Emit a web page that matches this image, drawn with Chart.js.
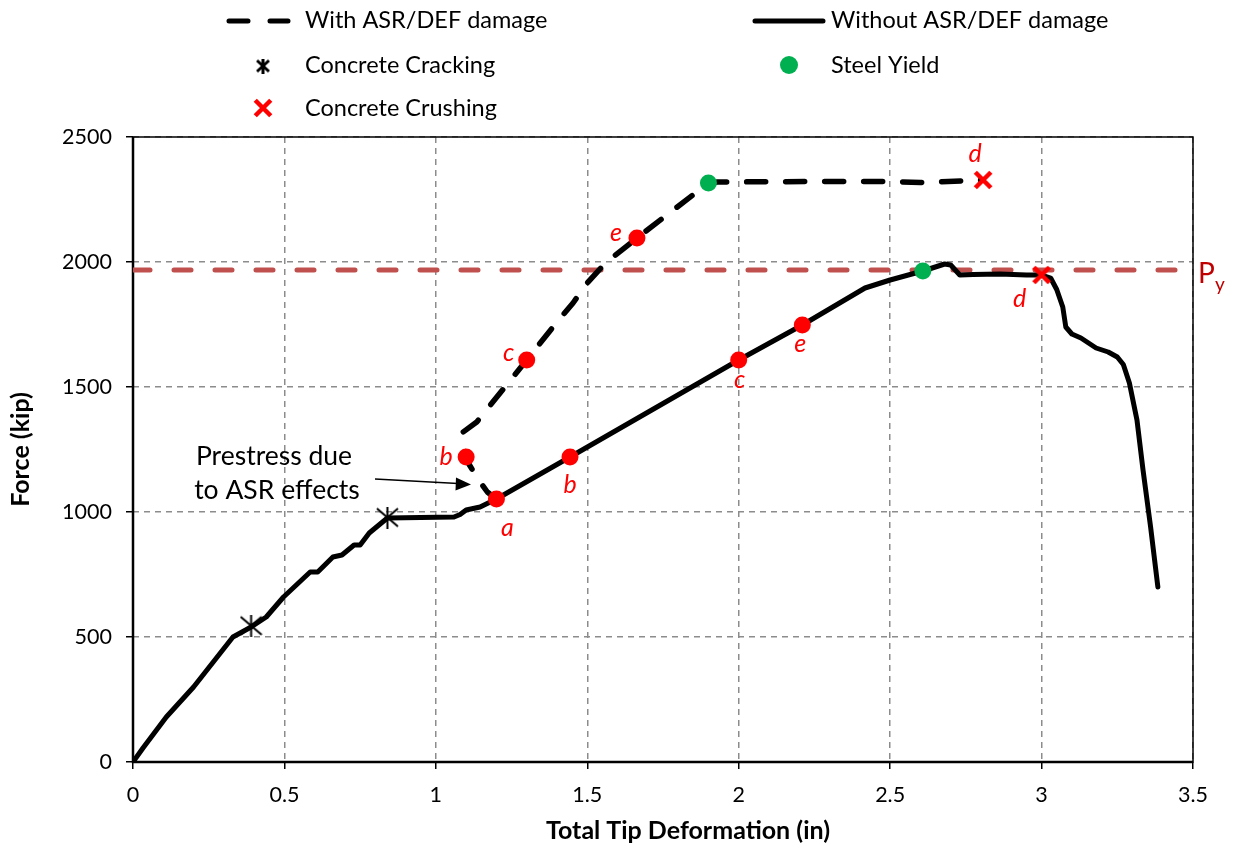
<!DOCTYPE html>
<html lang="en">
<head>
  <meta charset="UTF-8" />
  <title>Force vs Total Tip Deformation</title>
  <script src="https://cdn.jsdelivr.net/npm/chart.js"></script>
  <style>
    body { margin: 0; background: #fff; }
    #wrap { width: 1236px; height: 850px; }
  </style>
</head>
<body>
  <div id="wrap"><canvas id="forceChart" width="1236" height="850"></canvas></div>

  <script>
    // Without ASR/DEF damage (in, kip)
    const solidDef = [0, 0.033, 0.11, 0.2, 0.265, 0.33, 0.39, 0.44, 0.497, 0.585, 0.61, 0.66, 0.69, 0.73, 0.75, 0.78, 0.84,
      0.95, 1.06, 1.08, 1.10, 1.146, 1.2, 1.443, 2.0, 2.21, 2.417, 2.5, 2.608, 2.68, 2.70, 2.73, 2.774, 2.863, 2.95, 3.0,
      3.03, 3.05, 3.07, 3.08, 3.10, 3.13, 3.18, 3.22, 3.25, 3.27, 3.29, 3.315, 3.335, 3.36, 3.384];
    const solidForce = [0, 56, 180, 300, 400, 500, 540, 580, 660, 760, 760, 820, 828, 868, 868, 916, 976,
      978, 980, 990, 1008, 1020, 1052, 1220, 1608, 1748, 1896, 1928, 1964, 1992, 1988, 1948, 1950, 1952, 1948, 1948,
      1936, 1890, 1820, 1740, 1712, 1696, 1656, 1640, 1620, 1590, 1516, 1368, 1168, 940, 700];

    // With ASR/DEF damage (in, kip)
    const dashDef = [1.2, 1.17, 1.14, 1.11, 1.10, 1.093, 1.09, 1.135, 1.30, 1.40, 1.453, 1.50, 1.56, 1.664, 1.9, 1.93, 2.3, 2.5, 2.6, 2.807];
    const dashForce = [1052, 1080, 1130, 1190, 1220, 1280, 1320, 1360, 1608, 1760, 1836, 1916, 1996, 2096, 2316, 2320, 2322, 2322, 2318, 2328];

    const PY = 1968;

    const crackDef = [0.39, 0.84];
    const crackForce = [545, 978];
    const yieldDef = [1.9, 2.608];
    const yieldForce = [2316, 1964];
    const crushDef = [2.807, 3.0];
    const crushForce = [2328, 1948];

    const stageDashDef = [1.10, 1.30, 1.664];
    const stageDashForce = [1220, 1608, 2096];
    const stageDashTags = ['b', 'c', 'e'];
    const stageSolidDef = [1.2, 1.443, 2.0, 2.21];
    const stageSolidForce = [1052, 1220, 1608, 1748];
    const stageSolidTags = ['a', 'b', 'c', 'e'];
    const crushTags = ['d', 'd'];

    const xMax = 3.5, xStep = 0.5;
    const yMax = 2500, yStep = 500;

    // where the little italic letters sit next to their markers (px)
    const dashTagShift = [[-20, 0], [-18, -7], [-21, -5]];
    const solidTagShift = [[11, 29], [0, 28], [1, 20], [-2, 19]];
    const crushTagShift = [[-8, -26], [-22, 24]];

    const FONT = 'Lato, "Open Sans", sans-serif';
    const RED = '#ff0000';
    const GREEN = '#00b050';

    const pts = (xs, ys) => xs.map((x, i) => ({ x: x, y: ys[i] }));

    // asterisk-like marker: an X plus a vertical stroke
    function makeStar(w, h, lw) {
      const c = document.createElement('canvas');
      c.width = w; c.height = h;
      const g = c.getContext('2d');
      g.strokeStyle = '#000';
      g.lineWidth = lw;
      g.beginPath();
      g.moveTo(1, 2); g.lineTo(w - 1, h - 2);
      g.moveTo(w - 1, 2); g.lineTo(1, h - 2);
      g.moveTo(w / 2, 0); g.lineTo(w / 2, h);
      g.stroke();
      return c;
    }

    function makeCross(size, lw, color) {
      const c = document.createElement('canvas');
      c.width = c.height = size;
      const g = c.getContext('2d');
      g.strokeStyle = color;
      g.lineWidth = lw;
      const m = lw / 2;
      g.beginPath();
      g.moveTo(m, m); g.lineTo(size - m, size - m);
      g.moveTo(size - m, m); g.lineTo(m, size - m);
      g.stroke();
      return c;
    }

    const starMark = makeStar(23, 22, 2);
    const starLegend = makeStar(14, 15, 3);
    const crossMark = makeCross(20, 4.5, RED);

    function drawTag(ctx, text, x, y) {
      ctx.fillStyle = RED;
      ctx.font = 'italic 25px ' + FONT;
      ctx.textAlign = 'center';
      ctx.textBaseline = 'middle';
      ctx.fillText(text, x, y);
    }

    const decorations = {
      id: 'decorations',
      beforeDatasetsDraw(chart) {
        const { ctx, chartArea: a } = chart;
        ctx.save();
        ctx.strokeStyle = '#000';
        ctx.lineWidth = 1.5;
        ctx.strokeRect(a.left, a.top, a.right - a.left, a.bottom - a.top);
        ctx.lineWidth = 2.5;
        ctx.beginPath();
        ctx.moveTo(a.left, a.top); ctx.lineTo(a.left, a.bottom); ctx.lineTo(a.right, a.bottom);
        ctx.stroke();
        ctx.restore();
      },
      afterDraw(chart) {
        const { ctx, chartArea: a } = chart;
        const xs = chart.scales.x, ys = chart.scales.y;
        ctx.save();

        // legend
        ctx.lineCap = 'round';
        ctx.strokeStyle = '#000';
        ctx.lineWidth = 5;
        ctx.beginPath();
        ctx.moveTo(229, 21); ctx.lineTo(248, 21);
        ctx.moveTo(270, 21); ctx.lineTo(288, 21);
        ctx.moveTo(755, 21); ctx.lineTo(823, 21);
        ctx.stroke();
        ctx.drawImage(starLegend, 263 - 7, 66 - 7.5);
        ctx.drawImage(crossMark, 263 - 10, 108 - 10);
        ctx.fillStyle = GREEN;
        ctx.beginPath(); ctx.arc(789, 65, 9, 0, Math.PI * 2); ctx.fill();

        ctx.fillStyle = '#000';
        ctx.font = '23.5px ' + FONT;
        ctx.textAlign = 'left';
        ctx.textBaseline = 'middle';
        ctx.fillText('With ASR/DEF damage', 305, 20);
        ctx.fillText('Without ASR/DEF damage', 831, 20);
        ctx.fillText('Concrete Cracking', 305, 65);
        ctx.fillText('Steel Yield', 831, 65);
        ctx.fillText('Concrete Crushing', 305, 108);

        // stage letters
        stageDashTags.forEach((t, i) => drawTag(ctx, t,
          xs.getPixelForValue(stageDashDef[i]) + dashTagShift[i][0],
          ys.getPixelForValue(stageDashForce[i]) + dashTagShift[i][1]));
        stageSolidTags.forEach((t, i) => drawTag(ctx, t,
          xs.getPixelForValue(stageSolidDef[i]) + solidTagShift[i][0],
          ys.getPixelForValue(stageSolidForce[i]) + solidTagShift[i][1]));
        crushTags.forEach((t, i) => drawTag(ctx, t,
          xs.getPixelForValue(crushDef[i]) + crushTagShift[i][0],
          ys.getPixelForValue(crushForce[i]) + crushTagShift[i][1]));

        // prestress note with arrow
        ctx.fillStyle = '#000';
        ctx.font = '26.5px ' + FONT;
        ctx.textAlign = 'center';
        ctx.fillText('Prestress due', 274, 456);
        ctx.fillText('to ASR effects', 277, 490);
        ctx.lineWidth = 1.5;
        ctx.lineCap = 'butt';
        ctx.beginPath(); ctx.moveTo(375, 479); ctx.lineTo(458, 483.5); ctx.stroke();
        ctx.beginPath();
        ctx.moveTo(471, 484.5); ctx.lineTo(456, 477.5); ctx.lineTo(455.5, 490.5);
        ctx.closePath(); ctx.fill();

        // Py label
        const py = ys.getPixelForValue(PY);
        ctx.fillStyle = '#c00000';
        ctx.textAlign = 'left';
        ctx.font = '28px ' + FONT;
        ctx.fillText('P', a.right + 5, py + 4);
        ctx.font = '19px ' + FONT;
        ctx.fillText('y', a.right + 22, py + 15);

        // axis titles
        ctx.fillStyle = '#000';
        ctx.font = 'bold 25px ' + FONT;
        ctx.textAlign = 'center';
        ctx.fillText('Total Tip Deformation (in)', 688, 831);
        ctx.translate(21, (a.top + a.bottom) / 2);
        ctx.rotate(-Math.PI / 2);
        ctx.fillText('Force (kip)', 0, 0);

        ctx.restore();
      }
    };

    new Chart(document.getElementById('forceChart').getContext('2d'), {
      type: 'scatter',
      data: {
        datasets: [
          { label: 'Concrete Crushing', data: pts(crushDef, crushForce), pointStyle: crossMark, pointRadius: 10, order: 1 },
          { label: 'Steel Yield', data: pts(yieldDef, yieldForce), pointStyle: 'circle', pointRadius: 8.5,
            backgroundColor: GREEN, borderWidth: 0, order: 2 },
          { label: 'Concrete Cracking', data: pts(crackDef, crackForce), pointStyle: starMark, pointRadius: 10, order: 3 },
          { label: 'Stages (damaged)', data: pts(stageDashDef, stageDashForce), pointRadius: 8.5,
            backgroundColor: RED, borderWidth: 0, order: 4 },
          { label: 'Stages', data: pts(stageSolidDef, stageSolidForce), pointRadius: 8.5,
            backgroundColor: RED, borderWidth: 0, order: 5 },
          { label: 'With ASR/DEF damage', data: pts(dashDef, dashForce), showLine: true, pointRadius: 0,
            borderColor: '#000', borderWidth: 5.5, borderDash: [19, 20], borderCapStyle: 'round',
            borderJoinStyle: 'round', tension: 0, order: 6 },
          { label: 'Without ASR/DEF damage', data: pts(solidDef, solidForce), showLine: true, pointRadius: 0,
            borderColor: '#000', borderWidth: 5, borderCapStyle: 'round', borderJoinStyle: 'round',
            tension: 0, order: 7 },
          { label: 'Py', data: pts([0, xMax], [PY, PY]), showLine: true, pointRadius: 0,
            borderColor: '#c0504d', borderWidth: 5, borderDash: [17, 24], borderCapStyle: 'round', order: 8 }
        ]
      },
      options: {
        responsive: false,
        animation: false,
        layout: { padding: { top: 137, right: 43, left: 0, bottom: 0 } },
        plugins: { legend: { display: false }, tooltip: { enabled: false } },
        scales: {
          x: {
            type: 'linear', min: 0, max: xMax,
            afterFit: s => { s.height = 88; },
            ticks: { stepSize: xStep, color: '#000', padding: 13, font: { family: FONT, size: 21.5 },
              callback: v => String(v) },
            grid: { color: '#8c8c8c', lineWidth: 1.5, tickColor: '#000', tickLength: 7, tickWidth: 1.5,
              tickBorderDash: [], borderDash: [6, 5] },
            border: { display: false, dash: [6, 5] }
          },
          y: {
            min: 0, max: yMax,
            afterFit: s => { s.width = 133; },
            ticks: { stepSize: yStep, color: '#000', padding: 14, font: { family: FONT, size: 21.5 },
              callback: v => String(v) },
            grid: { color: '#8c8c8c', lineWidth: 1.5, tickColor: '#000', tickLength: 7, tickWidth: 1.5,
              tickBorderDash: [], borderDash: [6, 5] },
            border: { display: false, dash: [6, 5] }
          }
        }
      },
      plugins: [decorations]
    });
  </script>
</body>
</html>
